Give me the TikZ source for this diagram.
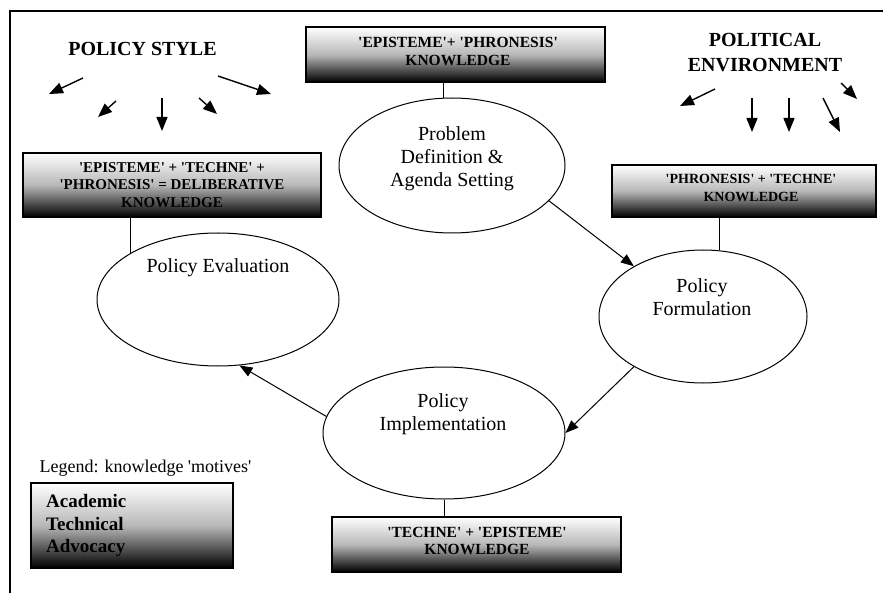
\documentclass[tikz,border=0pt]{standalone}
\usepackage{fontspec}
\setmainfont{Liberation Serif}
\usetikzlibrary{arrows.meta,shapes.geometric}
\newcommand{\qs}{\textquotesingle}
\begin{document}
\begin{tikzpicture}[x=1pt,y=-1pt,
  every node/.style={inner sep=0pt},
  kbox/.style={rectangle, draw=black, line width=1.1pt, top color=white, bottom color=black, middle color=black!28},
  ktext/.style={align=center, font=\fontsize{15}{17.5}\selectfont\bfseries},
  ell/.style={ellipse, draw=black, line width=1pt},
  etext/.style={align=center, font=\fontsize{20}{23}\selectfont},
  head/.style={font=\fontsize{20}{25}\selectfont\bfseries, align=center},
  flow/.style={line width=1pt, -{Triangle[length=13pt,width=10pt]}},
  infl/.style={line width=1.4pt, -{Triangle[length=14pt,width=11pt]}},
  link/.style={line width=1pt}]
\useasboundingbox (0,0) rectangle (883,593);
% frame
\draw[line width=1.3pt] (10,593) -- (10,11) -- (883,11);

% headings
\node[head] (ps) at (142.5,48.5) {POLICY STYLE};
\node[head] (pol) at (765,52.5) {POLITICAL\\ENVIRONMENT};

% influence arrows
\draw[infl] (83,78) -- (49,94);
\draw[infl] (116,101) -- (98,117);
\draw[infl] (162,98) -- (162,131);
\draw[infl] (199,98) -- (217,114);
\draw[infl] (218,76) -- (271,94);
\draw[infl] (715,89) -- (680,106);
\draw[infl] (752,98) -- (752,132);
\draw[infl] (789,98) -- (789,132);
\draw[infl] (823,98) -- (840,132);
\draw[infl] (841,83) -- (857,99);

% knowledge boxes
\node[kbox, minimum width=299pt, minimum height=55pt] (tbox) at (455.5,54.5) {};
\node[ktext, font=\fontsize{15.5}{17.5}\selectfont\bfseries] (tboxt) at (458,51.5) {\qs EPISTEME\qs+ \qs PHRONESIS\qs\\KNOWLEDGE};
\node[kbox, minimum width=298pt, minimum height=64pt] (lbox) at (172,185) {};
\node[ktext] (lboxt) at (172,185) {\qs EPISTEME\qs{} + \qs TECHNE\qs{} +\\\qs PHRONESIS\qs{} = DELIBERATIVE\\KNOWLEDGE};
\node[kbox, minimum width=264pt, minimum height=52pt] (rbox) at (744,191) {};
\node[ktext, font=\fontsize{14}{17.5}\selectfont\bfseries] (rboxt) at (751,188) {\qs PHRONESIS\qs{} + \qs TECHNE\qs\\KNOWLEDGE};
\node[kbox, minimum width=289pt, minimum height=55pt] (bbox) at (476.5,544.5) {};
\node[ktext, font=\fontsize{15.5}{17.5}\selectfont\bfseries] (bboxt) at (477,541) {\qs TECHNE\qs{} + \qs EPISTEME\qs\\KNOWLEDGE};

% stage ellipses
\node[ell, minimum width=226pt, minimum height=135pt] (pd) at (452,165.5) {};
\node[etext] (pdt) at (452,158.5) {Problem\\Definition \&\\Agenda Setting};
\node[ell, minimum width=242pt, minimum height=133pt] (pe) at (218,299.5) {};
\node[etext] (pet) at (218,268) {Policy Evaluation};
\node[ell, minimum width=208pt, minimum height=133pt] (pf) at (703,316.5) {};
\node[etext] (pft) at (702,297) {Policy\\Formulation};
\node[ell, minimum width=242pt, minimum height=132pt] (pi) at (444,433) {};
\node[etext] (pit) at (443,414.5) {Policy\\Implementation};

% links box - stage
\draw[link] (pd.97) -- (pd.97 |- tbox.south);
\draw[link] (pe.152) -- (pe.152 |- lbox.south);
\draw[link] (pf.76) -- (pf.76 |- rbox.south);
\draw[link] (pi.south) -- (pi.south |- bbox.north);

% cycle arrows
\draw[flow] (pd.-20) -- (pf.144);
\draw[flow] (pf.216) -- (pi.0);
\draw[flow] (pi.172) -- (pe.-72);

% legend
\node[font=\fontsize{18}{20}\selectfont] (legt) at (145.5,468) {Legend: knowledge \qs motives\qs};
\node[kbox, minimum width=202pt, minimum height=85pt] (legbox) at (132,525.5) {};
\node[align=left, anchor=west, font=\fontsize{19}{22.5}\selectfont\bfseries] (legbt) at (46,525.5) {Academic\\Technical\\Advocacy};
\end{tikzpicture}
\end{document}
